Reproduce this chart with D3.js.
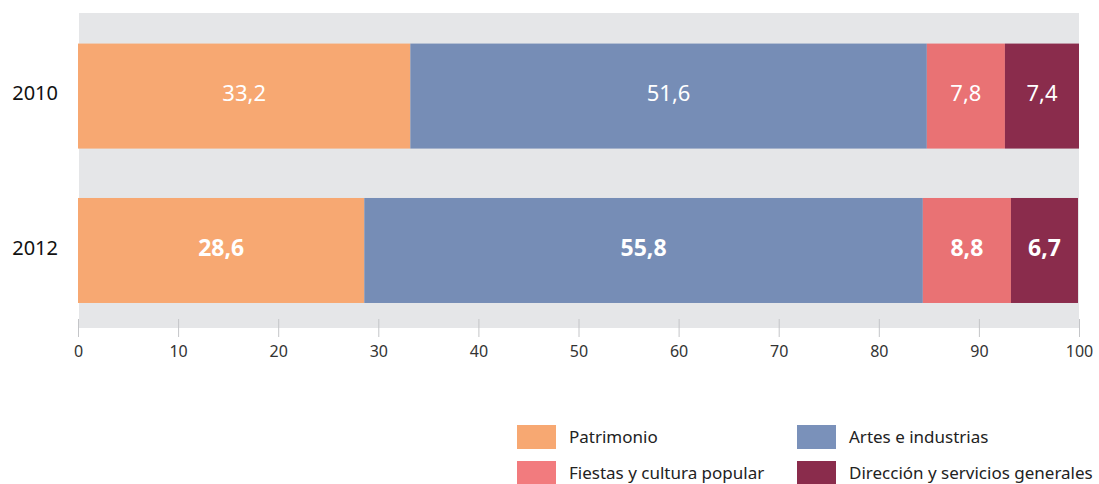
<!DOCTYPE html>
<html>
<head>
<meta charset="utf-8">
<script src="https://cdn.jsdelivr.net/npm/d3@7"></script>
<style>
  body { margin: 0; background: #fff; }
  svg { font-family: "Noto Sans", "Open Sans", sans-serif; }
</style>
</head>
<body>
<div id="chart"></div>
<script>
var years = ["2010", "2012"];
var categories = ["Patrimonio", "Artes e industrias", "Fiestas y cultura popular", "Dirección y servicios generales"];
var values2010 = [33.2, 51.6, 7.8, 7.4];
var values2012 = [28.6, 55.8, 8.8, 6.7];
var xTicks = [0, 10, 20, 30, 40, 50, 60, 70, 80, 90, 100];

var colors = ["#f7a872", "#768db6", "#e97274", "#8a2c4c"];
var legendColors = ["#f7a872", "#7a91ba", "#f27b7e", "#8a2c4c"];

var width = 1099, height = 484;
var svg = d3.select("#chart").append("svg")
  .attr("width", width)
  .attr("height", height);

var x = d3.scaleLinear().domain([0, 100]).range([78, 1079]);
var y = d3.scaleBand().domain(years).range([13, 328])
  .paddingInner(0.32).paddingOuter(0.18).align(0.55);

// gray plot background
svg.append("rect")
  .attr("x", 79).attr("y", 13)
  .attr("width", 1000).attr("height", 315)
  .attr("fill", "#e5e6e8");

var rows = [values2010, values2012];
rows.forEach(function(vals, r) {
  var acc = 0;
  var segs = vals.map(function(v, i) {
    var s = {start: acc, value: v, i: i};
    acc += v;
    return s;
  });
  var g = svg.append("g");
  g.selectAll("rect").data(segs).enter().append("rect")
    .attr("x", function(d) { return x(d.start); })
    .attr("y", y(years[r]))
    .attr("width", function(d) { return x(d.start + d.value) - x(d.start); })
    .attr("height", y.bandwidth())
    .attr("fill", function(d) { return colors[d.i]; });
  g.selectAll("text").data(segs).enter().append("text")
    .attr("x", function(d) { return x(d.start + d.value / 2); })
    .attr("y", y(years[r]) + y.bandwidth() / 2 - 3)
    .attr("dy", "0.36em")
    .attr("text-anchor", "middle")
    .attr("fill", "#fff")
    .style("font-size", r === 1 ? "23px" : "22px")
    .style("font-weight", r === 1 ? "bold" : "normal")
    .text(function(d) { return String(d.value).replace(".", ","); });
});

// year labels
svg.selectAll(".ylab").data(years).enter().append("text")
  .attr("class", "ylab")
  .attr("x", 58)
  .attr("y", function(d) { return y(d) + y.bandwidth() / 2 - 3; })
  .attr("dy", "0.36em")
  .attr("text-anchor", "end")
  .attr("fill", "#111")
  .style("font-size", "20px")
  .text(function(d) { return d; });

// x axis
var xAxis = d3.axisBottom(x).tickValues(xTicks).tickSize(18).tickPadding(9);
var ax = svg.append("g")
  .attr("transform", "translate(0,319)")
  .call(xAxis);
ax.select(".domain").remove();
ax.selectAll(".tick line").attr("stroke", "#c4c5c8");
ax.selectAll(".tick text")
  .attr("fill", "#333")
  .style("font-size", "16px")
  .style("font-family", "'Noto Sans', 'Open Sans', sans-serif");

// legend
var legPos = [[517, 425], [797, 425], [517, 461], [797, 461]];
var leg = svg.selectAll(".leg").data(categories).enter().append("g")
  .attr("class", "leg")
  .attr("transform", function(d, i) { return "translate(" + legPos[i][0] + "," + legPos[i][1] + ")"; });
leg.append("rect")
  .attr("width", 39).attr("height", 24)
  .attr("fill", function(d, i) { return legendColors[i]; });
leg.append("text")
  .attr("x", 52).attr("y", 12)
  .attr("dy", "0.36em")
  .attr("fill", "#222")
  .style("font-size", "17px")
  .text(function(d) { return d; });
</script>
</body>
</html>
